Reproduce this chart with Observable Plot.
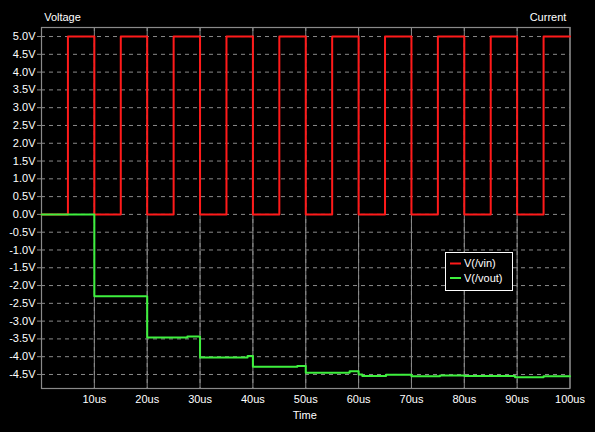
<!DOCTYPE html>
<html>
<head>
<meta charset="utf-8">
<script src="https://cdn.jsdelivr.net/npm/d3@7"></script>
<script src="https://cdn.jsdelivr.net/npm/@observablehq/plot@0.6"></script>
<style>
  html, body { margin: 0; padding: 0; background: #000; }
</style>
</head>
<body>
<div id="chart"></div>
<script>
// Input square wave V(/vin): time (us) and value (V), step-after
const vinT = [0, 5, 10, 15, 20, 25, 30, 35, 40, 45, 50, 55, 60, 65, 70, 75, 80, 85, 90, 95, 100];
const vinV = [0, 5, 0, 5, 0, 5, 0, 5, 0, 5, 0, 5, 0, 5, 0, 5, 0, 5, 0, 5, 5];

// Output V(/vout): time (us) and value (V), step-after
const voutT = [0, 10, 20, 27.6, 30, 39, 40, 48.4, 50, 58.3, 60, 60.7, 65.2, 70, 75.4, 80, 89.6, 95, 100];
const voutV = [0, -2.30, -3.46, -3.43, -4.02, -3.98, -4.28, -4.26, -4.45, -4.41, -4.50, -4.54, -4.51, -4.55, -4.53, -4.54, -4.58, -4.55, -4.55];

const yTicks = [5.0, 4.5, 4.0, 3.5, 3.0, 2.5, 2.0, 1.5, 1.0, 0.5, 0.0, -0.5, -1.0, -1.5, -2.0, -2.5, -3.0, -3.5, -4.0, -4.5];
const xTicks = [10, 20, 30, 40, 50, 60, 70, 80, 90, 100];
const xGrid = [10, 20, 30, 40, 50, 60, 70, 80, 90];

const seriesNames = ["V(/vin)", "V(/vout)"];
const seriesColors = ["#ff1a1a", "#3ef03e"];

const vin = vinT.map((t, i) => ({t, v: vinV[i]}));
const vout = voutT.map((t, i) => ({t, v: voutV[i]}));

const gridColor = "#8a8a8a";
const font = "'Liberation Sans', Arial, sans-serif";

const chart = Plot.plot({
  width: 595,
  height: 432,
  marginLeft: 41,
  marginRight: 25.5,
  marginTop: 27,
  marginBottom: 44,
  style: {background: "#000", color: "#fff", fontFamily: font, fontSize: "11px"},
  x: {domain: [0, 100]},
  y: {domain: [-4.894, 5.254]},
  marks: [
    Plot.ruleY(yTicks, {stroke: gridColor, strokeDasharray: "4,4", strokeWidth: 1}),
    Plot.ruleX(xGrid, {stroke: gridColor, strokeDasharray: "4,4", strokeWidth: 1}),
    Plot.ruleX([100], {stroke: gridColor, strokeWidth: 1}),
    Plot.frame({stroke: gridColor, strokeWidth: 1.2}),
    Plot.axisY({ticks: yTicks, tickFormat: d => d.toFixed(1) + "V", tickSize: 4, tickPadding: 2, label: null, stroke: gridColor, fill: "#fff", fontSize: 11}),
    Plot.axisX({ticks: xTicks, tickFormat: d => d + "us", tickSize: 0, tickPadding: 7, label: null, fill: "#fff", fontSize: 11}),
    Plot.tickX(xTicks.slice(0, 9), {y1: 5.254, y2: 5.254 - 0.17, stroke: gridColor, strokeWidth: 1}),
    Plot.line(vin, {x: "t", y: "v", curve: "step-after", stroke: seriesColors[0], strokeWidth: 2}),
    Plot.line(vout, {x: "t", y: "v", curve: "step-after", stroke: seriesColors[1], strokeWidth: 2}),
    Plot.text(["Voltage"], {frameAnchor: "top-left", dx: 21, dy: -14, fill: "#fff", fontSize: 11, textAnchor: "middle"}),
    Plot.text(["Current"], {frameAnchor: "top-right", dx: -22, dy: -14, fill: "#fff", fontSize: 11, textAnchor: "middle"}),
    Plot.text(["Time"], {frameAnchor: "bottom", dx: -1, dy: 30, fill: "#fff", fontSize: 11, textAnchor: "middle"})
  ]
});

// Legend box
const svg = d3.select(chart);
const lg = svg.append("g").attr("font-family", font).attr("font-size", 11).attr("text-anchor", "start");
lg.append("rect").attr("x", 445.5).attr("y", 252.5).attr("width", 67).attr("height", 38)
  .attr("fill", "#000").attr("stroke", "#fff").attr("stroke-width", 1);
seriesNames.forEach((name, i) => {
  const y = 263.5 + i * 14.5;
  lg.append("line").attr("x1", 450).attr("x2", 461).attr("y1", y).attr("y2", y)
    .attr("stroke", seriesColors[i]).attr("stroke-width", 2);
  lg.append("text").attr("x", 464).attr("y", y).attr("dy", "0.36em").attr("fill", "#fff")
    .attr("text-anchor", "start").text(name);
});

document.getElementById("chart").appendChild(chart);
</script>
</body>
</html>
